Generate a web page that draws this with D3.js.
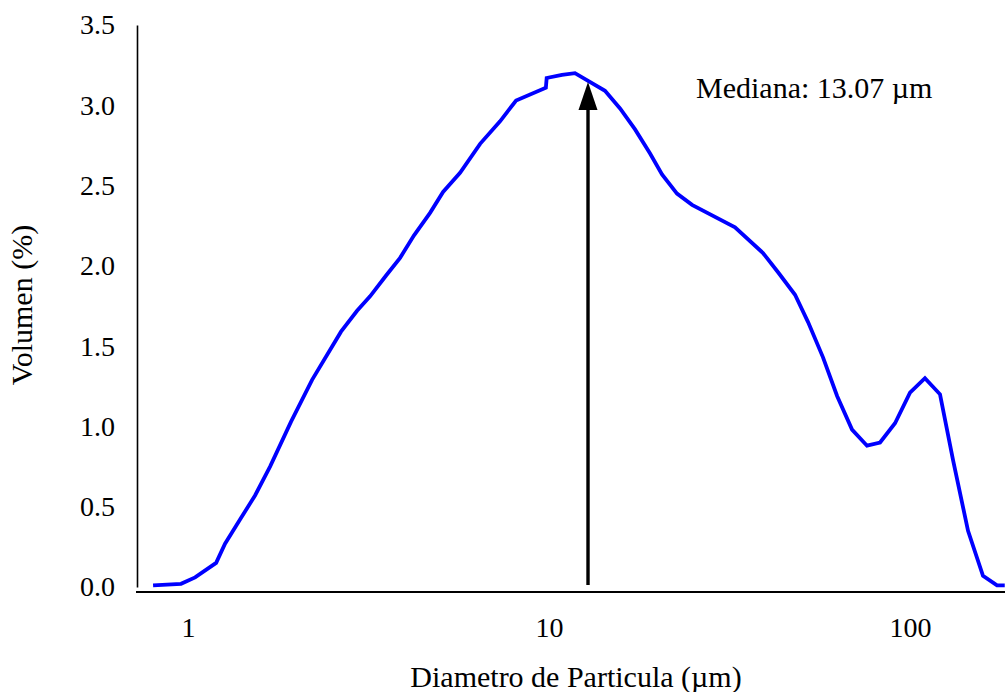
<!DOCTYPE html>
<html>
<head>
<meta charset="utf-8">
<script src="https://cdn.jsdelivr.net/npm/d3@7.9.0/dist/d3.min.js"></script>
<style>
  html, body { margin: 0; padding: 0; background: #fff; }
  svg { display: block; }
  text { font-family: "Liberation Serif", "Times New Roman", serif; fill: #000; }
</style>
</head>
<body>
<svg id="chart" width="1005" height="692"></svg>
<script>
// diámetro de partícula (µm) y volumen (%)
const diameter = [0.80, 0.956, 1.046, 1.196, 1.266, 1.393, 1.533, 1.687, 1.929, 2.206,
  2.653, 2.939, 3.193, 3.537, 3.867, 4.227, 4.682, 5.087, 5.669, 6.442,
  7.316, 8.104, 9.80, 9.85, 10.86, 11.80, 14.29, 15.73, 17.31, 19.05,
  20.56, 22.62, 24.90, 32.75, 39.15, 43.10, 48.03, 52.19, 57.41, 62.81,
  69.09, 76.02, 82.61, 90.88, 100.0, 110.0, 121.1, 131.6, 144.8, 159.3,
  174.2, 183.0];
const volume = [0.01, 0.02, 0.06, 0.15, 0.27, 0.42, 0.57, 0.75, 1.03, 1.29,
  1.59, 1.72, 1.81, 1.94, 2.05, 2.19, 2.33, 2.46, 2.58, 2.76,
  2.90, 3.03, 3.11, 3.17, 3.19, 3.20, 3.09, 2.98, 2.85, 2.70,
  2.57, 2.45, 2.38, 2.24, 2.08, 1.96, 1.82, 1.65, 1.43, 1.19,
  0.98, 0.88, 0.90, 1.02, 1.21, 1.30, 1.20, 0.79, 0.35, 0.07,
  0.01, 0.01];
const xTicks = [1, 10, 100];
const yTicks = [0, 0.5, 1.0, 1.5, 2.0, 2.5, 3.0, 3.5];
const median = 13.07;

const svg = d3.select('#chart');
const data = diameter.map((d, i) => ({ d, v: volume[i] }));

const x = d3.scaleLog().domain([0.722, 183.3]).range([137, 1005]);
const y = d3.scaleLinear().domain([0, 3.5]).range([587, 25]);
const FS = 28;   // etiquetas de ticks
const FT = 30;   // títulos y anotación

// eje X
const gx = svg.append('g')
  .attr('transform', 'translate(0,592)')
  .call(d3.axisBottom(x).tickValues(xTicks).tickFormat(d3.format('d')).tickSize(0).tickPadding(25));
gx.select('.domain').attr('d', 'M136,0H1005').attr('stroke', '#000').attr('stroke-width', 2);
gx.selectAll('text').style('font-size', FS + 'px').style('font-family', '"Liberation Serif", serif');

// eje Y
const gy = svg.append('g')
  .attr('transform', 'translate(137,0)')
  .call(d3.axisLeft(y).tickValues(yTicks).tickFormat(d3.format('.1f')).tickSize(0).tickPadding(22));
gy.select('.domain').attr('stroke', '#000').attr('stroke-width', 1.6);
gy.selectAll('text').style('font-size', FS + 'px').style('font-family', '"Liberation Serif", serif');

// curva
svg.append('defs').append('clipPath').attr('id', 'clip')
  .append('rect').attr('x', 137).attr('y', 0).attr('width', 868).attr('height', 692);
svg.append('path')
  .datum(data)
  .attr('clip-path', 'url(#clip)')
  .attr('fill', 'none')
  .attr('stroke', '#0000ff')
  .attr('stroke-width', 3.8)
  .attr('stroke-linejoin', 'miter')
  .attr('d', d3.line().x(p => x(p.d)).y(p => y(p.v)));

// flecha de la mediana
const ax = x(median) - 3;
svg.append('line')
  .attr('x1', ax).attr('x2', ax)
  .attr('y1', 585).attr('y2', 105)
  .attr('stroke', '#000').attr('stroke-width', 3.4);
svg.append('path')
  .attr('d', `M${ax},82L${ax - 9.5},110L${ax + 9.5},110Z`)
  .attr('fill', '#000');

svg.append('text')
  .attr('x', 696).attr('y', 98)
  .style('font-size', FT + 'px')
  .text('Mediana: 13.07 µm');

// títulos de ejes
svg.append('text')
  .attr('x', 576).attr('y', 687)
  .attr('text-anchor', 'middle')
  .style('font-size', FT + 'px')
  .text('Diametro de Particula (µm)');
svg.append('text')
  .attr('transform', 'translate(32,305) rotate(-90)')
  .attr('text-anchor', 'middle')
  .style('font-size', FT + 'px')
  .text('Volumen (%)');
</script>
</body>
</html>
